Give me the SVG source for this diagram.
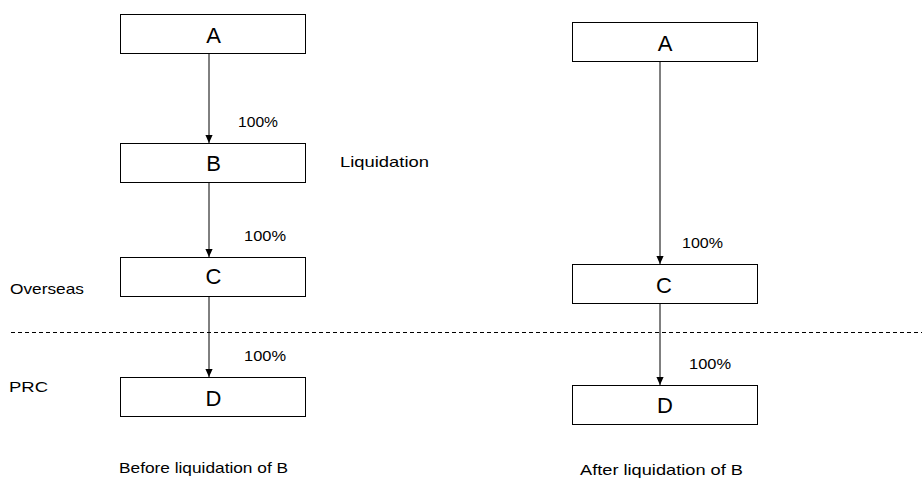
<svg xmlns="http://www.w3.org/2000/svg" width="922" height="478" viewBox="0 0 922 478">
<style>
.box{fill:#fff;stroke:#000;stroke-width:1}
.nt{font-family:"Liberation Sans",Arial,sans-serif;font-size:22px;text-anchor:middle;fill:#000}
.lb{font-family:"Liberation Sans",Arial,sans-serif;font-size:15px;fill:#000}
.ed{stroke:#000;stroke-width:1;fill:none;marker-end:url(#ah)}
</style>
<defs>
<marker id="ah" viewBox="0 0 10 10" refX="10" refY="5" markerWidth="8" markerHeight="8" markerUnits="userSpaceOnUse" orient="auto">
<path d="M0,0.5 L10,5 L0,9.5 z" fill="#000"/>
</marker>
</defs>
<rect width="922" height="478" fill="#fff"/>
<line x1="11" y1="332.5" x2="922" y2="332.5" stroke="#000" stroke-width="1" stroke-dasharray="4,3"/>
<g id="connectors">
<line class="ed" x1="209" y1="53" x2="209" y2="143"/>
<line class="ed" x1="209" y1="183" x2="209" y2="257"/>
<line class="ed" x1="209" y1="296" x2="209" y2="377"/>
<line class="ed" x1="660" y1="62" x2="660" y2="264"/>
<line class="ed" x1="660" y1="303" x2="660" y2="385"/>
</g>
<g id="left-A"><rect class="box" x="120.5" y="14.5" width="185" height="39"/><text class="nt" x="213.5" y="43">A</text></g>
<g id="left-B"><rect class="box" x="120.5" y="143.5" width="185" height="39"/><text class="nt" x="213.5" y="171">B</text></g>
<g id="left-C"><rect class="box" x="120.5" y="257.5" width="185" height="39"/><text class="nt" x="213.5" y="284">C</text></g>
<g id="left-D"><rect class="box" x="120.5" y="377.5" width="185" height="39"/><text class="nt" x="213.5" y="406">D</text></g>
<g id="right-A"><rect class="box" x="572.5" y="22.5" width="185" height="39"/><text class="nt" x="665" y="51">A</text></g>
<g id="right-C"><rect class="box" x="572.5" y="264.5" width="185" height="39"/><text class="nt" x="664" y="293">C</text></g>
<g id="right-D"><rect class="box" x="572.5" y="385.5" width="185" height="39"/><text class="nt" x="665" y="413">D</text></g>
<g id="labels">
<text class="lb" x="238" y="127" textLength="40" lengthAdjust="spacingAndGlyphs">100%</text>
<text class="lb" x="244" y="241" textLength="42" lengthAdjust="spacingAndGlyphs">100%</text>
<text class="lb" x="244" y="361" textLength="42" lengthAdjust="spacingAndGlyphs">100%</text>
<text class="lb" x="682" y="248" textLength="41" lengthAdjust="spacingAndGlyphs">100%</text>
<text class="lb" x="689" y="369" textLength="42" lengthAdjust="spacingAndGlyphs">100%</text>
<text class="lb" x="340" y="167" textLength="89" lengthAdjust="spacingAndGlyphs">Liquidation</text>
<text class="lb" x="10" y="294" textLength="74" lengthAdjust="spacingAndGlyphs">Overseas</text>
<text class="lb" x="9" y="392" textLength="39" lengthAdjust="spacingAndGlyphs">PRC</text>
<text class="lb" x="119" y="473" textLength="169" lengthAdjust="spacingAndGlyphs">Before liquidation of B</text>
<text class="lb" x="580" y="475" textLength="163" lengthAdjust="spacingAndGlyphs">After liquidation of B</text>
</g>
</svg>
